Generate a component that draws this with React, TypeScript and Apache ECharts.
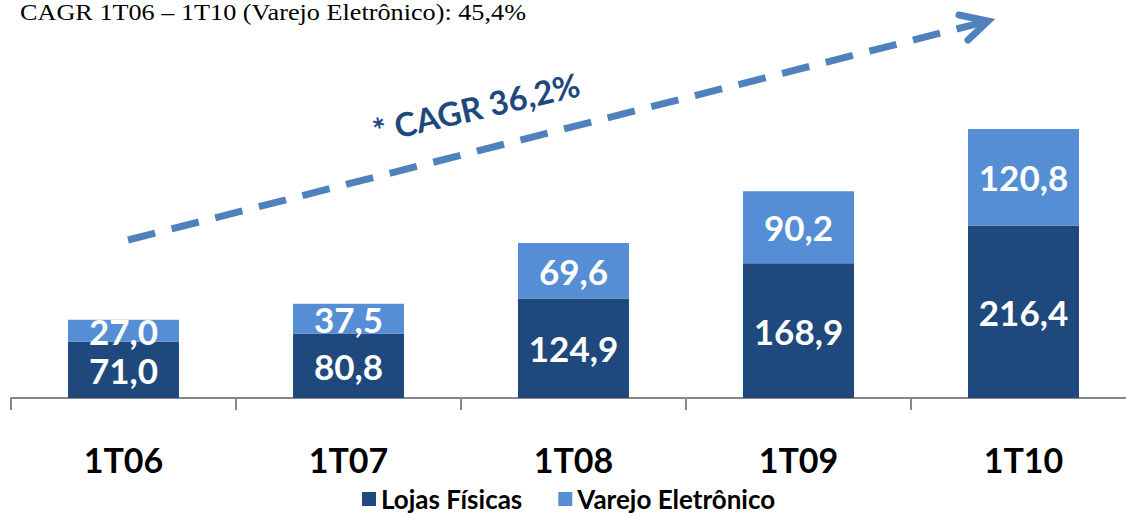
import React, { useEffect, useRef } from "react";
import * as echarts from "echarts";

const categories = ["1T06", "1T07", "1T08", "1T09", "1T10"];
const lojasFisicas = [71.0, 80.8, 124.9, 168.9, 216.4];
const varejoEletronico = [27.0, 37.5, 69.6, 90.2, 120.8];
const totals = [98.0, 118.3, 194.5, 259.1, 337.2];

const DARK = "#1F497D";
const LIGHT = "#558ED5";
const ARROW = "#4F81BD";
const FONT = "Lato";

const fmt = (v: number) => v.toFixed(1).replace(".", ",");

export default function App() {
  const ref = useRef<HTMLDivElement>(null);
  useEffect(() => {
    const chart = echarts.init(ref.current!, null, { renderer: "svg" });
    const labelStyle = {
      show: true,
      position: "inside",
      color: "#ffffff",
      fontFamily: FONT,
      fontWeight: "bold",
      fontSize: 35,
      formatter: (p: any) => fmt(p.value),
    };
    chart.setOption({
      animation: false,
      backgroundColor: "#ffffff",
      grid: { left: 11, right: 0, top: 79, bottom: 119, containLabel: false },
      xAxis: {
        type: "category",
        data: categories,
        axisLine: { lineStyle: { color: "#888888", width: 2 } },
        axisTick: { show: true, length: 12, lineStyle: { color: "#888888", width: 2 } },
        axisLabel: {
          color: "#000000",
          fontFamily: FONT,
          fontWeight: "bold",
          fontSize: 34,
          margin: 44,
        },
      },
      yAxis: { type: "value", min: 0, max: 400, show: false, splitLine: { show: false } },
      legend: {
        data: ["Lojas Físicas", "Varejo Eletrônico"],
        top: 486,
        left: 362,
        padding: 0,
        itemWidth: 14,
        itemHeight: 14,
        itemGap: 36,
        icon: "rect",
        textStyle: {
          fontFamily: FONT,
          fontWeight: "bold",
          fontSize: 26,
          lineHeight: 24,
          color: "#000000",
        },
      },
      series: [
        {
          name: "Lojas Físicas",
          type: "bar",
          stack: "s",
          barWidth: 111,
          data: lojasFisicas,
          itemStyle: { color: DARK },
          label: labelStyle,
        },
        {
          name: "Varejo Eletrônico",
          type: "bar",
          stack: "s",
          barWidth: 111,
          data: varejoEletronico,
          itemStyle: { color: LIGHT },
          label: labelStyle,
        },
        {
          name: "Total",
          type: "line",
          data: totals,
          symbol: "none",
          lineStyle: { opacity: 0 },
          silent: true,
          label: {
            show: true,
            position: "top",
            distance: 19,
            color: "#000000",
            fontFamily: FONT,
            fontWeight: "bold",
            fontSize: 35,
            formatter: (p: any) => fmt(p.value),
          },
        },
      ],
      graphic: [
        {
          type: "text",
          x: 20,
          y: 1,
          scaleX: 1.14,
          style: {
            text: "CAGR 1T06 – 1T10 (Varejo Eletrônico): 45,4%",
            fontFamily: "Liberation Serif",
            fontSize: 23,
            fill: "#000000",
          },
        },
        {
          type: "line",
          shape: { x1: 128, y1: 240, x2: 984, y2: 22 },
          style: { stroke: ARROW, lineWidth: 7, lineDash: [28, 17] },
        },
        {
          type: "polyline",
          shape: { points: [[959, 15], [988, 21], [968, 40]] },
          style: { stroke: ARROW, lineWidth: 7, fill: "none", lineCap: "round", lineJoin: "miter" },
        },
        {
          type: "text",
          x: 476,
          y: 107,
          rotation: (13 * Math.PI) / 180,
          style: {
            text: "* CAGR 36,2%",
            fontFamily: FONT,
            fontWeight: "bold",
            fontSize: 33,
            fill: DARK,
            align: "center",
            verticalAlign: "middle",
          },
        },
      ],
    });
    return () => chart.dispose();
  }, []);
  return (
    <div
      style={{ position: "absolute", left: 0, top: 0, width: 1126, height: 517, overflow: "hidden" }}
    >
      <div ref={ref} style={{ width: 1136, height: 517 }} />
    </div>
  );
}
